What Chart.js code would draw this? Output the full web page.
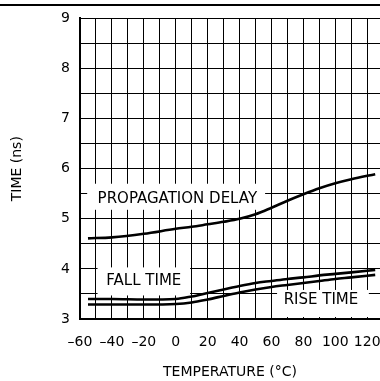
<!DOCTYPE html>
<html>
<head>
<meta charset="utf-8">
<script src="https://cdn.jsdelivr.net/npm/chart.js"></script>
<style>
  html, body { margin: 0; padding: 0; background: #fff; }
  #wrap { position: relative; width: 380px; height: 381px; overflow: hidden; }
  #topline { position: absolute; left: 0; top: 4px; width: 380px; border-top: 2px solid #000; }
</style>
</head>
<body>
<div id="wrap">
  <canvas id="myChart" width="380" height="381"></canvas>
  <div id="topline"></div>
</div>
<script>
// temperature (°C) and times (ns)
var temps = [-55, -40, -20, 0, 10, 20, 30, 40, 50, 60, 70, 80, 90, 100, 110, 125];
var propDelay = [4.61, 4.63, 4.70, 4.80, 4.84, 4.89, 4.94, 5.00, 5.09, 5.22, 5.36, 5.49, 5.61, 5.71, 5.79, 5.89];
var fallTime = [3.40, 3.40, 3.39, 3.40, 3.45, 3.52, 3.59, 3.66, 3.72, 3.76, 3.80, 3.83, 3.87, 3.90, 3.93, 3.98];
var riseTime = [3.29, 3.29, 3.29, 3.30, 3.33, 3.39, 3.46, 3.53, 3.59, 3.64, 3.68, 3.72, 3.76, 3.80, 3.83, 3.88];

var xTicks = [-60, -40, -20, 0, 20, 40, 60, 80, 100, 120];
var yTicks = [3, 4, 5, 6, 7, 8, 9];

var curveLabels = ['PROPAGATION DELAY', 'FALL TIME', 'RISE TIME'];

// white boxes behind the curve names, in data units
var labelBoxes = [
    { x0: -55.5, x1: 56, y0: 5.18, y1: 5.7, tx: 1, ty: 5.39 },
    { x0: -49, x1: 9, y0: 3.47, y1: 4.03, tx: -20, ty: 3.76 },
    { x0: 63.5, x1: 121, y0: 3.04, y1: 3.58, tx: 91, ty: 3.37 }
];

var FONT = "'DejaVu Sans', sans-serif";

function pts(ys) {
    return temps.map(function (t, i) { return { x: t, y: ys[i] }; });
}

var curveNames = {
    id: 'curveNames',
    beforeDatasetsDraw: function (chart) {
        var ctx = chart.ctx;
        var xs = chart.scales.x, ys = chart.scales.y;
        ctx.save();
        labelBoxes.forEach(function (b, i) {
            var l = xs.getPixelForValue(b.x0), r = xs.getPixelForValue(b.x1);
            var t = ys.getPixelForValue(b.y1), bt = ys.getPixelForValue(b.y0);
            ctx.fillStyle = '#fff';
            ctx.fillRect(l, t, r - l, bt - t);
            ctx.fillStyle = '#000';
            ctx.font = "15px " + FONT;
            ctx.textAlign = 'center';
            ctx.textBaseline = 'middle';
            ctx.fillText(curveLabels[i], xs.getPixelForValue(b.tx), ys.getPixelForValue(b.ty));
        });
        ctx.restore();
    }
};

var ctx = document.getElementById("myChart");

var myChart = new Chart(ctx, {
    type: 'line',
    data: {
        datasets: [
            { label: curveLabels[0], data: pts(propDelay) },
            { label: curveLabels[1], data: pts(fallTime) },
            { label: curveLabels[2], data: pts(riseTime) }
        ]
    },
    options: {
        responsive: false,
        animation: false,
        layout: { padding: { top: 18, left: 0, right: 0, bottom: 0 } },
        elements: {
            line: { borderColor: '#000', borderWidth: 2.6, cubicInterpolationMode: 'monotone', fill: false },
            point: { radius: 0 }
        },
        plugins: {
            legend: { display: false },
            tooltip: { enabled: false }
        },
        scales: {
            x: {
                type: 'linear',
                min: -60,
                max: 128,
                afterFit: function (scale) {
                    scale.height = 62;
                    scale.paddingLeft = 0;
                    scale.paddingRight = 0;
                },
                ticks: {
                    stepSize: 10,
                    includeBounds: false,
                    autoSkip: false,
                    maxRotation: 0,
                    padding: 15,
                    color: '#000',
                    font: { family: FONT, size: 14 },
                    callback: function (v) {
                        v = Math.round(v);
                        if (xTicks.indexOf(v) < 0) return '';
                        return v < 0 ? '\u2013' + Math.abs(v) : String(v);
                    }
                },
                grid: { color: '#000', lineWidth: 1, drawTicks: false },
                border: { color: '#000', width: 2 },
                title: {
                    display: true,
                    text: 'TEMPERATURE (\u00B0C)',
                    color: '#000',
                    font: { family: FONT, size: 14 },
                    padding: { top: 0, bottom: 0 }
                }
            },
            y: {
                min: 3,
                max: 9,
                afterFit: function (scale) {
                    scale.width = 80;
                },
                ticks: {
                    stepSize: 0.5,
                    autoSkip: false,
                    padding: 10,
                    color: '#000',
                    font: { family: FONT, size: 14 },
                    callback: function (v) {
                        return yTicks.indexOf(v) < 0 ? '' : String(v);
                    }
                },
                grid: { color: '#000', lineWidth: 1, drawTicks: false },
                border: { color: '#000', width: 2 },
                title: {
                    display: true,
                    text: 'TIME (ns)',
                    color: '#000',
                    font: { family: FONT, size: 14 },
                    padding: { top: 9, bottom: 0 }
                }
            }
        }
    },
    plugins: [curveNames]
});
</script>
</body>
</html>
